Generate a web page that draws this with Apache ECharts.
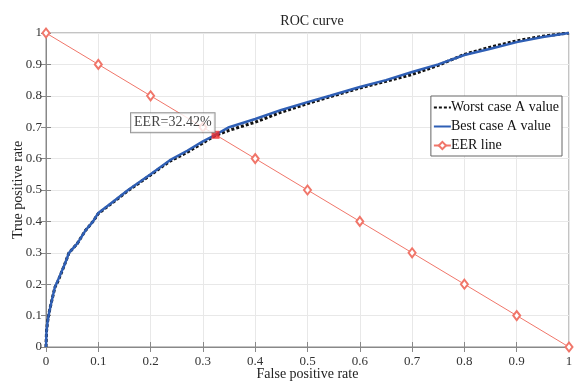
<!DOCTYPE html>
<html>
<head>
<meta charset="utf-8">
<script src="https://cdn.jsdelivr.net/npm/echarts@6/dist/echarts.min.js"></script>
<style>
  html, body { margin: 0; padding: 0; background: #fff; }
  #chart { width: 574px; height: 383px; }
</style>
</head>
<body>
<div id="chart"></div>
<script>
// best case curve (blue)
const bestFpr = [0, 0.001, 0.003, 0.006, 0.01, 0.017, 0.023, 0.035, 0.044, 0.06, 0.075, 0.09, 0.1, 0.13, 0.157, 0.2, 0.237, 0.27, 0.3, 0.3242, 0.35, 0.4, 0.45, 0.5, 0.543, 0.6, 0.65, 0.7, 0.75, 0.8, 0.85, 0.9, 0.95, 1];
const bestTpr = [0, 0.05, 0.08, 0.11, 0.14, 0.19, 0.213, 0.26, 0.30, 0.33, 0.37, 0.40, 0.427, 0.465, 0.50, 0.55, 0.595, 0.625, 0.655, 0.676, 0.70, 0.726, 0.755, 0.78, 0.80, 0.828, 0.85, 0.876, 0.90, 0.93, 0.95, 0.971, 0.987, 1];
// worst case curve (black dotted)
const worstFpr = [0, 0.001, 0.003, 0.006, 0.01, 0.017, 0.023, 0.035, 0.044, 0.06, 0.075, 0.09, 0.1, 0.13, 0.157, 0.2, 0.237, 0.27, 0.3, 0.3242, 0.35, 0.4, 0.45, 0.5, 0.543, 0.6, 0.65, 0.7, 0.75, 0.8, 0.85, 0.9, 0.95, 1];
const worstTpr = [0, 0.05, 0.08, 0.11, 0.14, 0.19, 0.21, 0.26, 0.30, 0.33, 0.37, 0.40, 0.425, 0.463, 0.498, 0.548, 0.592, 0.62, 0.65, 0.674, 0.69, 0.716, 0.748, 0.775, 0.797, 0.825, 0.846, 0.868, 0.897, 0.932, 0.955, 0.975, 0.99, 1];
// EER line
const eerFpr = [0, 0.1, 0.2, 0.3, 0.4, 0.5, 0.6, 0.7, 0.8, 0.9, 1];
const eerTpr = [1, 0.9, 0.8, 0.7, 0.6, 0.5, 0.4, 0.3, 0.2, 0.1, 0];
const eerPoint = [0.3242, 0.6758];
const eerLabel = 'EER=32.42%';
const tickStep = 0.1;

const pairs = (xs, ys) => xs.map((x, i) => [x, ys[i]]);
const fmt = v => String(+v.toFixed(1));
const font = 'Liberation Serif';

const chart = echarts.init(document.getElementById('chart'));
const baseX = {
  type: 'value', min: 0, max: 1, interval: tickStep,
  axisLine: { lineStyle: { color: '#888' } },
  axisTick: { inside: true, length: 5, lineStyle: { color: '#888' } },
  splitLine: { show: true, lineStyle: { color: '#e8e8e8' } }
};
const noSymbol = { color: 'transparent', borderWidth: 0 };
chart.setOption({
  animation: false,
  backgroundColor: '#fff',
  textStyle: { fontFamily: font },
  title: {
    text: 'ROC curve', left: 307, top: 9, textAlign: 'center',
    textStyle: { fontFamily: font, fontSize: 14, fontWeight: 'normal', color: '#222' }
  },
  grid: {
    left: 46, right: 5, top: 33, bottom: 36, outerBoundsMode: 'none',
    show: true, borderColor: '#888', borderWidth: 1
  },
  legend: {
    orient: 'vertical', right: 12, top: 96,
    backgroundColor: '#fff', borderColor: '#666', borderWidth: 1,
    padding: [4, 3, 3, 2], itemGap: 4, itemWidth: 17, itemHeight: 9,
    textStyle: { fontFamily: font, fontSize: 14, lineHeight: 15, color: '#111', padding: [0, 0, 0, -5] },
    data: [
      { name: 'Worst case A value', itemStyle: noSymbol },
      { name: 'Best case A value', itemStyle: noSymbol },
      { name: 'EER line' }
    ]
  },
  xAxis: [
    Object.assign({}, baseX, {
      position: 'bottom',
      name: 'False positive rate', nameLocation: 'middle', nameGap: 20, nameMoveOverlap: false,
      nameTextStyle: { fontFamily: font, fontSize: 14, color: '#222' },
      axisLabel: { formatter: fmt, fontFamily: font, fontSize: 13, color: '#333', margin: 8 }
    }),
    Object.assign({}, baseX, { position: 'top', axisLabel: { show: false }, splitLine: { show: false } })
  ],
  yAxis: [
    Object.assign({}, baseX, {
      position: 'left',
      name: 'True positive rate', nameLocation: 'middle', nameGap: 21, nameMoveOverlap: false,
      nameTextStyle: { fontFamily: font, fontSize: 14, color: '#222' },
      axisLabel: { formatter: fmt, fontFamily: font, fontSize: 13, color: '#333', margin: 4 }
    }),
    Object.assign({}, baseX, { position: 'right', axisLabel: { show: false }, splitLine: { show: false } })
  ],
  series: [
    {
      name: 'Worst case A value', type: 'line', showSymbol: false, symbol: 'none',
      data: pairs(worstFpr, worstTpr),
      lineStyle: { color: '#111', width: 3, type: [3, 2] },
      itemStyle: { color: '#111' }, z: 3
    },
    {
      name: 'Best case A value', type: 'line', showSymbol: false, symbol: 'none',
      data: pairs(bestFpr, bestTpr),
      lineStyle: { color: '#2f5fb5', width: 2.5 },
      itemStyle: { color: '#2f5fb5' }, z: 4
    },
    {
      name: 'EER line', type: 'line', symbol: 'emptyDiamond', symbolSize: [7, 9],
      data: pairs(eerFpr, eerTpr),
      lineStyle: { color: '#f0766a', width: 1 },
      itemStyle: { color: '#f0766a', borderColor: '#f0766a', borderWidth: 1 }, z: 2
    },
    {
      name: 'EER', type: 'scatter', symbol: 'rect', symbolSize: 8,
      data: [eerPoint],
      itemStyle: { color: '#ee2a2a' }, z: 6,
      label: {
        show: true, position: 'left', offset: [8, -12], formatter: eerLabel,
        fontFamily: font, fontSize: 14, color: '#111',
        backgroundColor: '#fff', borderColor: '#777', borderWidth: 1, padding: [3, 3, 2, 3]
      }
    }
  ]
});
</script>
</body>
</html>
